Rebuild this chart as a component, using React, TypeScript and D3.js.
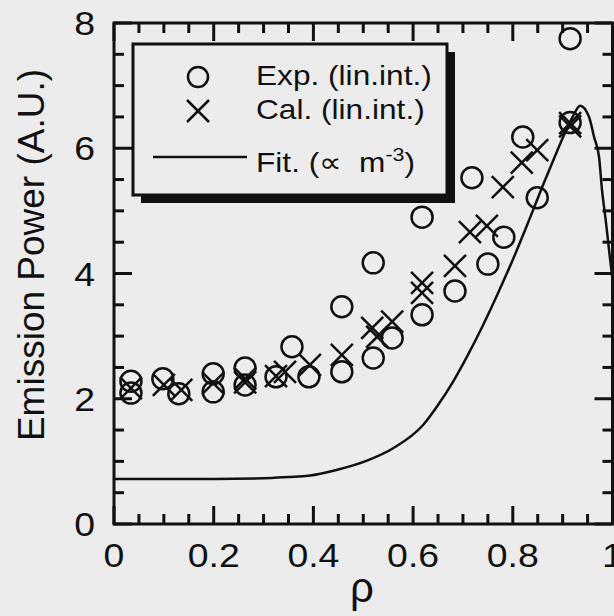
import React from "react";
import * as d3 from "d3";

const expRho = [0.034, 0.034, 0.098, 0.13, 0.199, 0.199, 0.263, 0.263, 0.325, 0.357, 0.391, 0.457, 0.457, 0.52, 0.52, 0.558, 0.618, 0.618, 0.684, 0.718, 0.75, 0.782, 0.82, 0.849, 0.915, 0.915];
const expVal = [2.28, 2.09, 2.32, 2.08, 2.40, 2.11, 2.49, 2.22, 2.35, 2.83, 2.35, 3.47, 2.43, 4.17, 2.65, 2.97, 4.90, 3.34, 3.72, 5.53, 4.15, 4.58, 6.18, 5.21, 7.75, 6.41];

const calRho = [0.034, 0.10, 0.135, 0.199, 0.263, 0.263, 0.325, 0.343, 0.393, 0.457, 0.518, 0.528, 0.558, 0.618, 0.618, 0.684, 0.714, 0.748, 0.78, 0.818, 0.849, 0.915, 0.915];
const calVal = [2.17, 2.22, 2.14, 2.25, 2.32, 2.26, 2.36, 2.43, 2.54, 2.70, 3.13, 2.99, 3.23, 3.85, 3.69, 4.12, 4.66, 4.76, 5.38, 5.77, 5.97, 6.40, 6.35];

const fitRho = [0, 0.1, 0.2, 0.3, 0.35, 0.39, 0.45, 0.51, 0.56, 0.62, 0.65, 0.68, 0.71, 0.74, 0.77, 0.8, 0.83, 0.86, 0.885, 0.905, 0.92, 0.935, 0.953, 0.963, 0.973, 0.979, 0.987, 0.993, 1.0];
const fitVal = [0.72, 0.72, 0.72, 0.73, 0.75, 0.77, 0.87, 1.02, 1.21, 1.58, 1.90, 2.27, 2.70, 3.17, 3.68, 4.22, 4.80, 5.40, 5.88, 6.25, 6.50, 6.68, 6.5, 6.18, 5.86, 5.33, 4.81, 4.38, 3.9];

const xTicks = [0, 0.2, 0.4, 0.6, 0.8, 1];
const xTickLabels = ["0", "0.2", "0.4", "0.6", "0.8", "1"];
const yTicks = [0, 2, 4, 6, 8];
const yTickLabels = ["0", "2", "4", "6", "8"];

const legendLabels = ["Exp. (lin.int.)", "Cal. (lin.int.)", "Fit. (\u221D  m"];

export default function App() {
  const W = 614, H = 616;
  const x = d3.scaleLinear().domain([0, 1]).range([114, 612.5]);
  const y = d3.scaleLinear().domain([0, 8]).range([524, 23]);
  const bg = "#ececec";
  const font = "'Liberation Sans', Arial, Helvetica, sans-serif";
  const x0 = x(0), x1 = x(1), y0 = y(0), y1 = y(8);

  const xMinor = d3.range(0, 1.0001, 0.05).map((v) => +v.toFixed(2));
  const yMinor = d3.range(0, 8.0001, 0.5).map((v) => +v.toFixed(1));
  const isXMajor = (v: number) => xTicks.some((t) => Math.abs(t - v) < 1e-6);
  const isYMajor = (v: number) => yTicks.some((t) => Math.abs(t - v) < 1e-6);

  const line = d3
    .line<number>()
    .x((_, i) => x(fitRho[i]))
    .y((d) => y(d))
    .curve(d3.curveMonotoneX);

  const cross = (cx: number, cy: number, s: number, key: string | number) => (
    <g key={key}>
      <line x1={cx - s} y1={cy - s} x2={cx + s} y2={cy + s} />
      <line x1={cx - s} y1={cy + s} x2={cx + s} y2={cy - s} />
    </g>
  );

  return (
    <svg
      width={W}
      height={H}
      style={{ position: "absolute", left: 0, top: 0, display: "block", background: bg }}
    >
      <rect x={0} y={0} width={W} height={H} fill={bg} />
      {/* ticks */}
      <g stroke="#111" strokeWidth={3}>
        {xMinor.map((v) => {
          const L = isXMajor(v) ? 18 : 10;
          return (
            <g key={"xt" + v}>
              <line x1={x(v)} x2={x(v)} y1={y0} y2={y0 - L} />
              <line x1={x(v)} x2={x(v)} y1={y1} y2={y1 + L} />
            </g>
          );
        })}
        {yMinor.map((v) => {
          const L = isYMajor(v) ? 18 : 10;
          return (
            <g key={"yt" + v}>
              <line x1={x0} x2={x0 + L} y1={y(v)} y2={y(v)} />
              <line x1={x1} x2={x1 - L} y1={y(v)} y2={y(v)} />
            </g>
          );
        })}
      </g>
      {/* fit curve */}
      <path d={line(fitVal) || ""} fill="none" stroke="#111" strokeWidth={2.5} />
      {/* exp circles */}
      <g fill="none" stroke="#111" strokeWidth={2.5}>
        {expRho.map((r, i) => (
          <circle key={"e" + i} cx={x(r)} cy={y(expVal[i])} r={10.5} />
        ))}
      </g>
      {/* cal crosses */}
      <g stroke="#111" strokeWidth={2.5}>
        {calRho.map((r, i) => cross(x(r), y(calVal[i]), 11, "c" + i))}
      </g>
      {/* frame */}
      <rect x={x0} y={y1} width={x1 - x0} height={y0 - y1} fill="none" stroke="#111" strokeWidth={3} />
      {/* legend */}
      <rect x={141} y={52} width={314} height={151} fill="#111" />
      <rect x={133} y={44} width={314} height={151} fill={bg} stroke="#111" strokeWidth={3} />
      <circle cx={198} cy={77} r={10} fill="none" stroke="#111" strokeWidth={2.5} />
      <g stroke="#111" strokeWidth={2.5}>{cross(198, 111, 11, "lc")}</g>
      <line x1={153} x2={247} y1={157} y2={157} stroke="#111" strokeWidth={2.5} />
      <g fontFamily={font} fontSize={28} fill="#111">
        <text transform="translate(256,85) scale(1.13,1)">{legendLabels[0]}</text>
        <text transform="translate(256,119) scale(1.13,1)">{legendLabels[1]}</text>
        <text transform="translate(256,172) scale(1.13,1)" xmlSpace="preserve">
          {legendLabels[2]}
          <tspan fontSize={19} dy={-11}>-3</tspan>
          <tspan dy={11}>)</tspan>
        </text>
      </g>
      {/* tick labels */}
      <g fontFamily={font} fontSize={34} fill="#111">
        {xTicks.map((t, i) => (
          <text key={"xl" + t} textAnchor="middle" transform={`translate(${x(t)},567) scale(1.1,1)`}>
            {xTickLabels[i]}
          </text>
        ))}
        {yTicks.map((t, i) => (
          <text key={"yl" + t} textAnchor="end" transform={`translate(95,${y(t) + 12}) scale(1.1,1)`}>
            {yTickLabels[i]}
          </text>
        ))}
      </g>
      {/* axis titles */}
      <text
        fontFamily={font}
        fontSize={37}
        fill="#111"
        textAnchor="middle"
        transform="translate(44,255) rotate(-90)"
      >
        Emission Power (A.U.)
      </text>
      <text fontFamily={font} fontSize={42} fill="#111" textAnchor="middle" x={362} y={602}>
        ρ
      </text>
    </svg>
  );
}
